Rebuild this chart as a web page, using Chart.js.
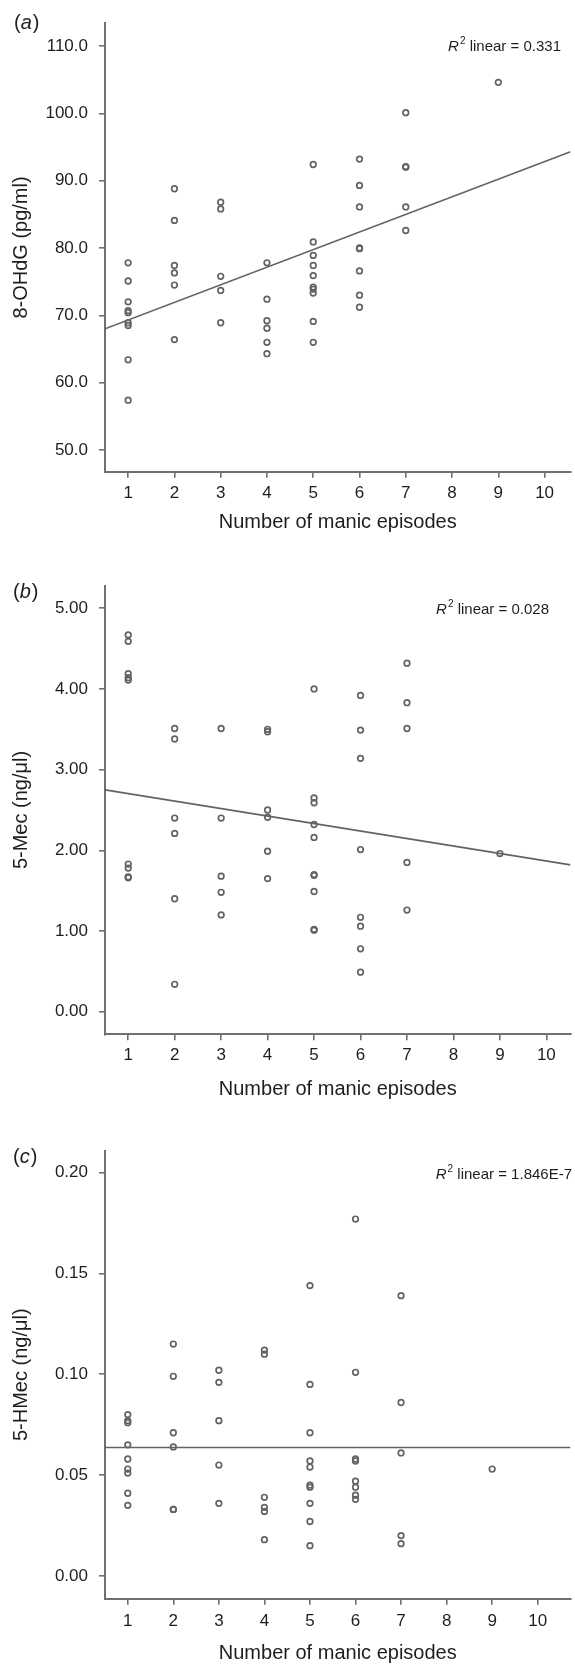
<!DOCTYPE html>
<html>
<head>
<meta charset="utf-8">
<title>Manic episodes vs oxidative / methylation markers</title>
<script src="https://cdn.jsdelivr.net/npm/chart.js@4.4.1/dist/chart.umd.min.js"></script>
<style>
  body { margin: 0; background: #fff; width: 575px; height: 1666px; position: relative; overflow: hidden; }
  canvas { position: absolute; left: 0; }
</style>
</head>
<body>
<canvas id="chartA" width="575" height="545" style="top:0px"></canvas>
<canvas id="chartB" width="575" height="560" style="top:545px"></canvas>
<canvas id="chartC" width="575" height="561" style="top:1105px"></canvas>
<script>
// x tick labels shared by all three panels
const episodeTicks = [1, 2, 3, 4, 5, 6, 7, 8, 9, 10];

// (a) 8-OHdG (pg/ml)
const ohdgEpisodes = [1,1,1,1,1,1,1,1,1, 2,2,2,2,2,2, 3,3,3,3,3, 4,4,4,4,4,4,
                      5,5,5,5,5,5,5,5,5,5, 6,6,6,6,6,6,6,6, 7,7,7,7,7, 9];
const ohdgValues = [77.8, 75.1, 72.0, 70.7, 70.4, 68.9, 68.5, 63.4, 57.4,
                    88.8, 84.1, 77.4, 76.3, 74.5, 66.4,
                    86.8, 85.8, 75.8, 73.7, 68.9,
                    77.8, 72.4, 69.2, 68.1, 66.0, 64.3,
                    92.4, 80.9, 78.9, 77.4, 75.9, 74.2, 73.9, 73.3, 69.1, 66.0,
                    93.2, 89.3, 86.1, 80.0, 79.9, 76.6, 73.0, 71.2,
                    100.1, 92.1, 92.0, 86.1, 82.6,
                    104.6];
const ohdgFit = [68.0, 94.3];          // fit line at left / right edge of the x axis
const ohdgTicks = [50, 60, 70, 80, 90, 100, 110];

// (b) 5-Mec (ng/ul)
const mecEpisodes = [1,1,1,1,1,1,1,1,1, 2,2,2,2,2,2, 3,3,3,3,3, 4,4,4,4,4,4,
                     5,5,5,5,5,5,5,5,5,5, 6,6,6,6,6,6,6,6, 7,7,7,7,7, 9];
const mecValues = [4.67, 4.59, 4.19, 4.14, 4.11, 1.83, 1.78, 1.67, 1.66,
                   3.51, 3.38, 2.40, 2.21, 1.40, 0.34,
                   3.51, 2.40, 1.68, 1.48, 1.20,
                   3.50, 3.47, 2.50, 2.41, 1.99, 1.65,
                   4.00, 2.65, 2.59, 2.32, 2.16, 1.70, 1.69, 1.49, 1.02, 1.01,
                   3.92, 3.49, 3.14, 2.01, 1.17, 1.06, 0.78, 0.49,
                   4.32, 3.83, 3.51, 1.85, 1.26,
                   1.96];
const mecFit = [2.75, 1.82];
const mecTicks = [0, 1, 2, 3, 4, 5];

// (c) 5-HMec (ng/ul)
const hmecEpisodes = [1,1,1,1,1,1,1,1,1, 2,2,2,2,2,2, 3,3,3,3,3, 4,4,4,4,4,4,
                      5,5,5,5,5,5,5,5,5,5, 6,6,6,6,6,6,6,6, 7,7,7,7,7, 9];
const hmecValues = [0.080, 0.077, 0.076, 0.065, 0.058, 0.053, 0.051, 0.041, 0.035,
                    0.115, 0.099, 0.071, 0.064, 0.033, 0.033,
                    0.102, 0.096, 0.077, 0.055, 0.036,
                    0.112, 0.110, 0.039, 0.034, 0.032, 0.018,
                    0.144, 0.095, 0.071, 0.057, 0.054, 0.045, 0.044, 0.036, 0.027, 0.015,
                    0.177, 0.101, 0.058, 0.057, 0.047, 0.044, 0.040, 0.038,
                    0.139, 0.086, 0.061, 0.020, 0.016,
                    0.053];
const hmecFit = [0.0637, 0.0637];
const hmecTicks = [0, 0.05, 0.10, 0.15, 0.20];

Chart.defaults.font.family = '"Liberation Sans", Arial, sans-serif';
Chart.defaults.color = '#1e1e1e';

const axisGrey = '#707070';
const markGrey = '#636363';

// panel letter "(a)" and the R² note
const annotate = {
  id: 'annotate',
  afterDraw(chart, args, o) {
    const ctx = chart.ctx;
    ctx.save();
    ctx.fillStyle = '#1e1e1e';
    ctx.textBaseline = 'middle';
    ctx.textAlign = 'left';

    const f = '20px "Liberation Sans", Arial, sans-serif';
    const fi = 'italic ' + f;
    let x = o.letterX;
    ctx.font = f; ctx.fillText('(', x, o.letterY); x += ctx.measureText('(').width;
    ctx.font = fi; ctx.fillText(o.letter, x, o.letterY); x += ctx.measureText(o.letter).width + 1;
    ctx.font = f; ctx.fillText(')', x, o.letterY);

    const rf = '15px "Liberation Sans", Arial, sans-serif';
    const rfi = 'italic ' + rf;
    const sf = '10px "Liberation Sans", Arial, sans-serif';
    const rest = ' linear = ' + o.r2;
    ctx.font = rfi; const wR = ctx.measureText('R').width;
    ctx.font = sf; const w2 = ctx.measureText('2').width;
    ctx.font = rf; const wRest = ctx.measureText(rest).width;
    let rx = o.r2Right - (wR + w2 + 1 + wRest);
    ctx.font = rfi; ctx.fillText('R', rx, o.r2Y); rx += wR + 1;
    ctx.font = sf; ctx.fillText('2', rx, o.r2Y - 6); rx += w2;
    ctx.font = rf; ctx.fillText(rest, rx, o.r2Y);
    ctx.restore();
  }
};

function makePanel(id, xs, ys, fit, yTicks, cfg) {
  const points = xs.map((x, i) => ({ x: x, y: ys[i] }));
  const fitLine = [{ x: cfg.xMin, y: fit[0] }, { x: cfg.xMax, y: fit[1] }];
  return new Chart(document.getElementById(id), {
    type: 'scatter',
    data: {
      datasets: [
        {
          data: points,
          pointStyle: 'circle',
          pointRadius: 2.8,
          pointBorderWidth: 1.7,
          pointBorderColor: markGrey,
          pointBackgroundColor: 'rgba(255,255,255,0)',
          pointHoverRadius: 2.8
        },
        {
          type: 'line',
          data: fitLine,
          borderColor: markGrey,
          borderWidth: 1.7,
          pointRadius: 0,
          fill: false
        }
      ]
    },
    options: {
      responsive: false,
      animation: false,
      events: [],
      layout: { padding: { top: cfg.padTop, left: 0, right: 0, bottom: 0 } },
      plugins: {
        legend: { display: false },
        tooltip: { enabled: false },
        annotate: cfg.note
      },
      scales: {
        x: {
          type: 'linear',
          min: cfg.xMin,
          max: cfg.xMax,
          afterBuildTicks: (s) => { s.ticks = episodeTicks.map(v => ({ value: v })); },
          afterFit: (s) => { s.height = cfg.xHeight; },
          ticks: { font: { size: 17 }, padding: cfg.xTickPad, color: '#1e1e1e' },
          grid: { drawOnChartArea: false, drawTicks: true, tickLength: 6, color: axisGrey, lineWidth: 1.6 },
          border: { display: true, color: axisGrey, width: 2 },
          title: {
            display: true,
            text: 'Number of manic episodes',
            font: { size: 20 },
            color: '#1e1e1e',
            padding: { top: 0, bottom: cfg.xTitlePad }
          }
        },
        y: {
          min: cfg.yMin,
          max: cfg.yMax,
          afterBuildTicks: (s) => { s.ticks = yTicks.map(v => ({ value: v })); },
          afterFit: (s) => { s.width = 105; },
          ticks: {
            font: { size: 17 },
            padding: 11,
            color: '#1e1e1e',
            callback: (v) => Number(v).toFixed(cfg.decimals)
          },
          grid: { drawOnChartArea: false, drawTicks: true, tickLength: 6, color: axisGrey, lineWidth: 1.6 },
          border: { display: true, color: axisGrey, width: 2 },
          title: {
            display: true,
            text: cfg.yTitle,
            font: { size: 20 },
            color: '#1e1e1e',
            padding: { top: 9, bottom: 0 }
          }
        }
      }
    },
    plugins: [annotate]
  });
}

makePanel('chartA', ohdgEpisodes, ohdgValues, ohdgFit, ohdgTicks, {
  xMin: 0.5, xMax: 10.56, yMin: 46.78, yMax: 113.37, decimals: 1,
  padTop: 23.3, xHeight: 73.3, xTickPad: 5, xTitlePad: 11,
  yTitle: '8-OHdG (pg/ml)',
  note: { letter: 'a', letterX: 14, letterY: 23, r2: '0.331', r2Right: 561, r2Y: 47 }
});

makePanel('chartB', mecEpisodes, mecValues, mecFit, mecTicks, {
  xMin: 0.5, xMax: 10.52, yMin: -0.28, yMax: 5.28, decimals: 2,
  padTop: 40.7, xHeight: 70.7, xTickPad: 4.5, xTitlePad: 4,
  yTitle: '5-Mec (ng/\u03bcl)',
  note: { letter: 'b', letterX: 13, letterY: 47, r2: '0.028', r2Right: 549, r2Y: 65 }
});

makePanel('chartC', hmecEpisodes, hmecValues, hmecFit, hmecTicks, {
  xMin: 0.5, xMax: 10.72, yMin: -0.0113, yMax: 0.2109, decimals: 2,
  padTop: 45.7, xHeight: 67.3, xTickPad: 6.5, xTitlePad: 1,
  yTitle: '5-HMec (ng/\u03bcl)',
  note: { letter: 'c', letterX: 13, letterY: 52, r2: '1.846E-7', r2Right: 572, r2Y: 70 }
});
</script>
</body>
</html>
